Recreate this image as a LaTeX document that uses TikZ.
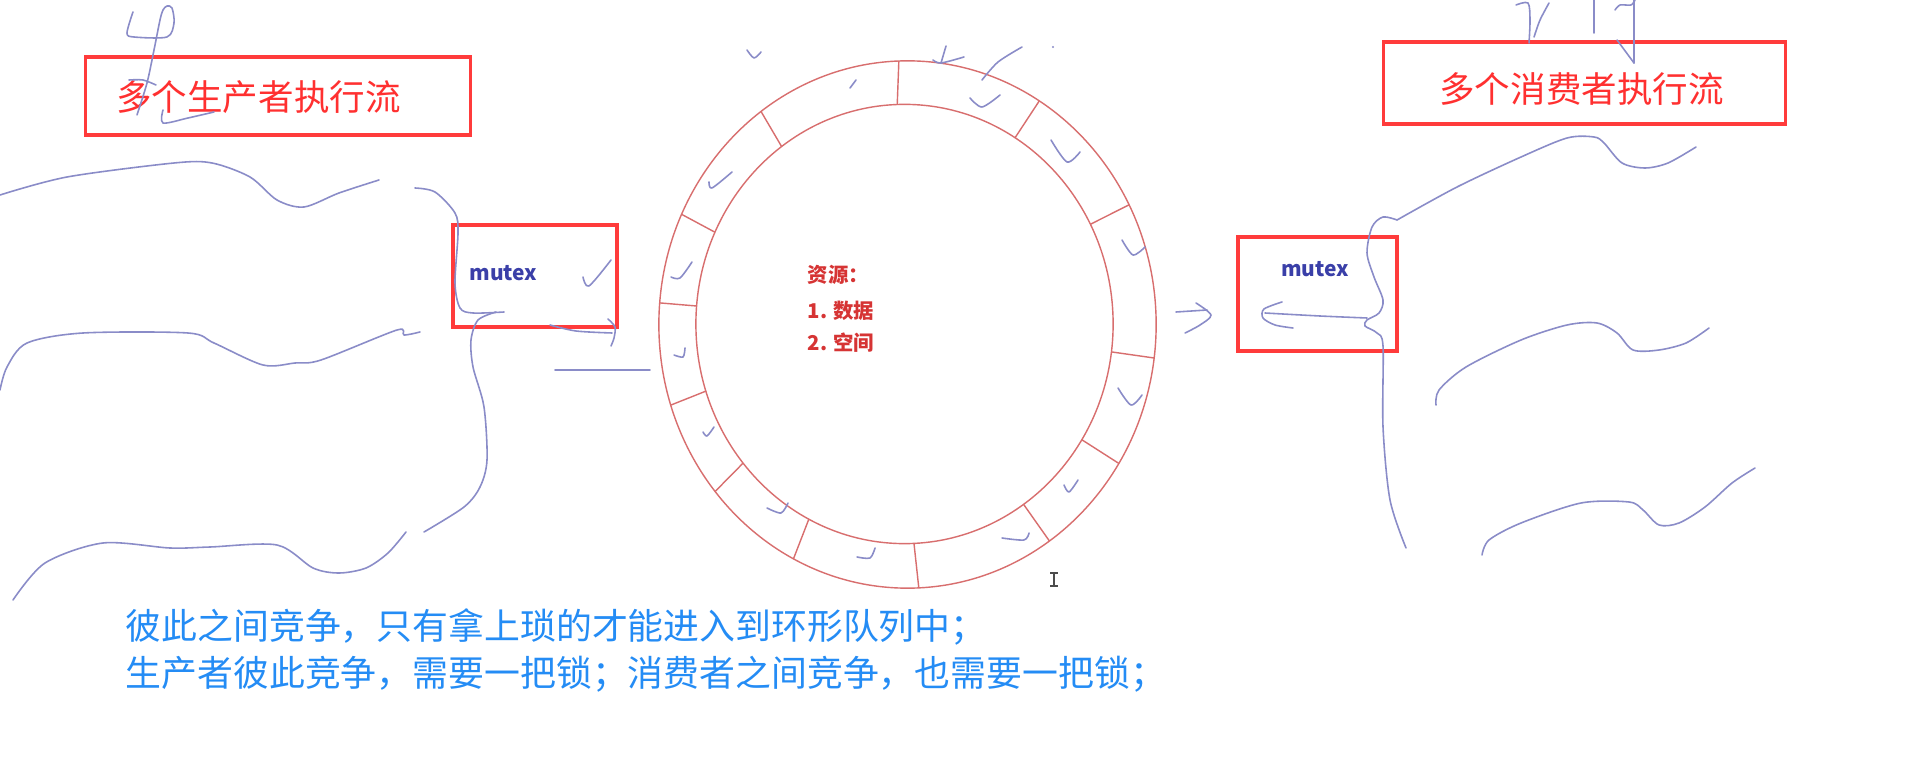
\documentclass[tikz,border=0pt]{standalone}
\usepackage{fontspec}
\setmainfont{Noto Sans CJK SC}
\definecolor{boxred}{RGB}{255,59,59}
\definecolor{titlered}{RGB}{255,48,48}
\definecolor{resred}{RGB}{214,52,52}
\definecolor{ringred}{RGB}{216,110,110}
\definecolor{mutexblue}{RGB}{58,63,168}
\definecolor{txtblue}{RGB}{36,140,245}
\definecolor{strk}{RGB}{138,140,200}
\begin{document}
\begin{tikzpicture}[x=0.01cm,y=0.01cm,
  redbox/.style={draw=boxred, line width=0.9pt, inner sep=0pt},
  titletext/.style={text=titlered, font=\fontsize{10.1}{12}\selectfont, inner sep=0pt},
  mutextext/.style={text=mutexblue, font=\bfseries\fontsize{5.95}{7}\selectfont, inner sep=0pt},
  restext/.style={text=resred, font=\bfseries\fontsize{5.8}{7}\selectfont, inner sep=0pt, anchor=west},
  bluetext/.style={text=txtblue, font=\fontsize{10.2}{12}\selectfont, inner sep=0pt, anchor=west},
  pen/.style={draw=strk, line width=0.45pt, line cap=round, line join=round},
  ringline/.style={draw=ringred, line width=0.4pt}]
\fill[white] (0,0) rectangle (1919,-758);
\useasboundingbox (0,0) rectangle (1919,-758);

% ---- boxes and titles
\node[redbox, minimum width=3.84cm, minimum height=0.78cm] (prod) at (278,-96) {};
\node[titletext] (prodt) at (258.5,-97) {多个生产者执行流};
\node[redbox, minimum width=4.01cm, minimum height=0.82cm] (cons) at (1584.5,-83) {};
\node[titletext] (const) at (1581.5,-89) {多个消费者执行流};
\node[redbox, minimum width=1.64cm, minimum height=1.02cm] (lm) at (535,-276) {};
\node[mutextext] (lmt) at (503.5,-273) {mutex};
\node[redbox, minimum width=1.59cm, minimum height=1.14cm] (rm) at (1317.5,-294) {};
\node[mutextext] (rmt) at (1315,-269) {mutex};

% ---- ring buffer
\draw[ringline] (907.5,-324.5) ellipse [x radius=2.485cm, y radius=2.635cm];
\draw[ringline] (904.5,-324) ellipse [x radius=2.085cm, y radius=2.195cm];
\foreach \a in {92,126.1,155.3,175.3,197.8,219.3,242.7,272.6,304.8,328.2,352.7,27,58}{
  \draw[ringline] ({904.5+208.5*cos(\a)},{-324+219.5*sin(\a)}) -- ({907.5+248.5*cos(\a)},{-324.5+263.5*sin(\a)});
}
\node[restext] (r0) at (807,-275) {资源：};
\node[restext] (r1) at (807,-311) {1. 数据};
\node[restext] (r2) at (807,-343) {2. 空间};

% ---- bottom text
\node[bluetext] (b1) at (125,-627) {彼此之间竞争，只有拿上琐的才能进入到环形队列中；};
\node[bluetext] (b2) at (125,-674) {生产者彼此竞争，需要一把锁；消费者之间竞争，也需要一把锁；};

% ---- hand-drawn strokes, left side
\draw[pen] plot[smooth] coordinates {(133,-12) (127,-33) (134,-37) (167,-37) (174,-23) (172,-8) (167,-6) (163,-10) (160,-20) (154,-50) (147,-83) (137,-115)};
\draw[pen] plot[smooth] coordinates {(129,-80) (143,-80) (156,-85)};
\draw[pen] plot[smooth] coordinates {(163,-110) (163,-123) (188,-118) (214,-112)};
\draw[pen] plot[smooth] coordinates {(0,-195) (67,-177) (174,-163) (212,-163) (250,-177) (277,-200) (304,-207) (339,-193) (379,-180)};
\draw[pen] plot[smooth] coordinates {(415,-188) (435,-192) (455,-213) (458,-233) (455,-283) (460,-308) (473,-313) (504,-312)};
\draw[pen] plot[smooth] coordinates {(496,-312) (478,-320) (471,-340) (473,-367) (484,-407) (487,-460) (480,-487) (464,-507) (424,-532)};
\draw[pen] plot[smooth] coordinates {(406,-532) (388,-553) (366,-568) (339,-573) (313,-568) (277,-545) (210,-547) (170,-548) (103,-543) (45,-563) (13,-600)};
\draw[pen] plot[smooth] coordinates {(0,-390) (7,-367) (27,-343) (83,-333) (188,-333) (214,-343) (263,-365) (295,-363) (321,-360) (397,-330) (404,-335) (420,-332)};
\draw[pen] plot[smooth] coordinates {(583,-277) (589,-286) (611,-260)};
\draw[pen] plot[smooth] coordinates {(550,-325) (576,-331) (612,-333)};
\draw[pen] plot[smooth] coordinates {(608,-319) (615,-327) (614,-338) (611,-346)};
\draw[pen] (555,-370) -- (650,-370);

% ---- strokes above and right of the ring
\draw[pen] plot[smooth] coordinates {(747,-50) (754,-58) (761,-52)};
\draw[pen] (946,-46) -- (941,-63);
\draw[pen] plot[smooth] coordinates {(933,-60) (941,-63) (964,-57)};
\draw[pen] plot[smooth] coordinates {(982,-80) (998,-62) (1022,-47)};
\fill[strk] (1053,-47) circle [radius=0.012cm];
\draw[pen] (1176,-312) -- (1207,-310);
\draw[pen] plot[smooth] coordinates {(1196,-303) (1211,-315) (1200,-325) (1185,-333)};

% ---- hooks in ring slots
\foreach \p/\q/\r in {{(970,-98)}/{(982,-107)}/{(1000,-95)},
  {(1051,-140)}/{(1067,-162)}/{(1080,-152)},
  {(1122,-240)}/{(1133,-255)}/{(1145,-247)},
  {(732,-172)}/{(712,-188)}/{(709,-182)},
  {(692,-262)}/{(680,-278)}/{(671,-277)},
  {(685,-348)}/{(683,-357)}/{(674,-355)},
  {(714,-427)}/{(707,-436)}/{(703,-432)},
  {(788,-503)}/{(781,-513)}/{(767,-508)},
  {(875,-548)}/{(870,-558)}/{(857,-557)},
  {(1029,-533)}/{(1024,-540)}/{(1002,-538)},
  {(1078,-480)}/{(1069,-492)}/{(1064,-485)},
  {(1142,-395)}/{(1131,-405)}/{(1118,-388)},
  {(856,-80)}/{(853,-84)}/{(850,-88)}}{
  \draw[pen] plot[smooth] coordinates {\p \q \r};
}

% ---- right side strokes
\draw[pen] plot[smooth] coordinates {(1265,-313) (1320,-316) (1367,-318)};
\draw[pen] plot[smooth] coordinates {(1282,-302) (1264,-309) (1263,-318) (1275,-325) (1293,-328)};
\draw[pen] plot[smooth] coordinates {(1397,-220) (1383,-217) (1372,-227) (1367,-253) (1374,-277) (1383,-300) (1379,-313) (1367,-320) (1365,-326) (1377,-333) (1383,-346) (1383,-427) (1390,-500) (1406,-548)};
\draw[pen] plot[smooth] coordinates {(1397,-220) (1457,-187) (1521,-157) (1567,-138) (1594,-137) (1604,-143) (1622,-163) (1645,-168) (1668,-163) (1696,-147)};
\draw[pen] plot[smooth] coordinates {(1436,-405) (1439,-390) (1466,-367) (1521,-340) (1567,-325) (1597,-323) (1617,-333) (1633,-350) (1659,-350) (1686,-343) (1709,-328)};
\draw[pen] plot[smooth] coordinates {(1482,-555) (1489,-540) (1521,-523) (1581,-503) (1629,-502) (1643,-510) (1659,-525) (1679,-523) (1705,-507) (1732,-483) (1755,-468)};
\draw[pen] plot[smooth] coordinates {(1516,-5) (1528,-3) (1530,-20) (1529,-43)};
\draw[pen] plot[smooth] coordinates {(1549,-3) (1540,-20) (1534,-37)};
\draw[pen] (1594,0) -- (1594,-33);
\draw[pen] plot[smooth] coordinates {(1615,-10) (1620,-5) (1631,-5) (1635,0)};
\draw[pen] (1634,0) -- (1634,-63);
\draw[pen] (1617,-40) -- (1634,-63);

% ---- text cursor
\draw[black!70, line width=0.5pt] (1054,-573) -- (1054,-586) (1050,-573) -- (1058,-573) (1050,-586) -- (1058,-586);
\end{tikzpicture}
\end{document}
